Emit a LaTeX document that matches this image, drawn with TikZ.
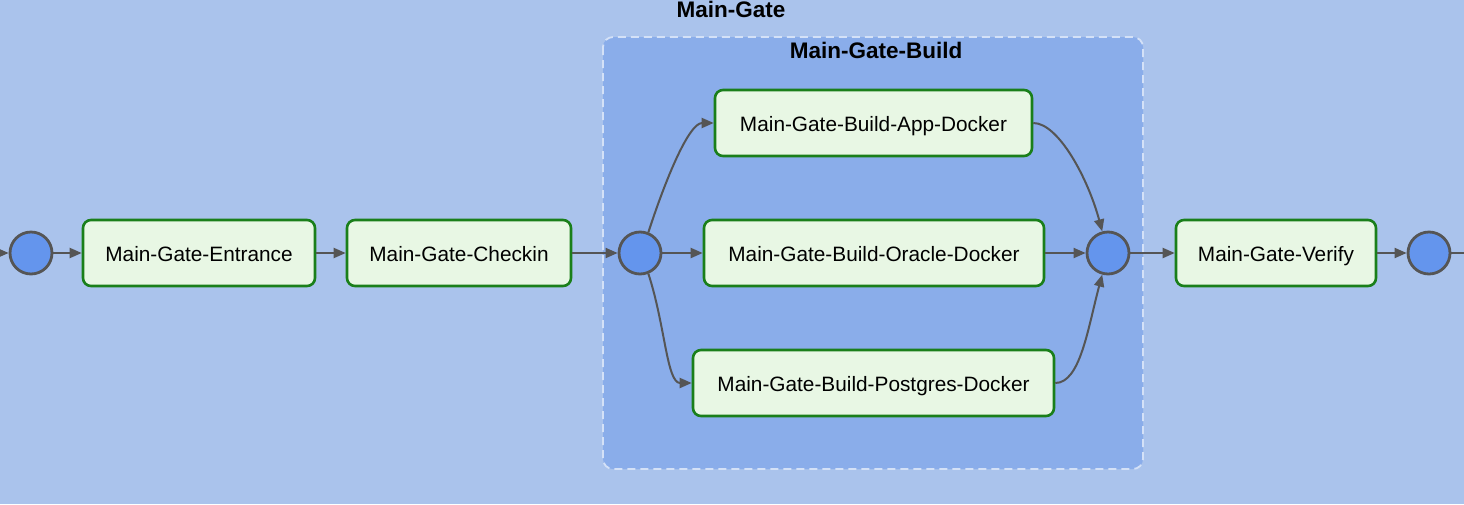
\documentclass[tikz,border=0pt]{standalone}
\usepackage{fontspec}
\setmainfont{Liberation Sans}
\usetikzlibrary{arrows.meta}
\definecolor{outerbg}{HTML}{AAC3EC}
\definecolor{innerbg}{HTML}{8AADEA}
\definecolor{innerln}{HTML}{D4E1F7}
\definecolor{circfill}{HTML}{6495ED}
\definecolor{circln}{HTML}{555555}
\definecolor{boxfill}{HTML}{E8F7E4}
\definecolor{boxln}{HTML}{1A7F1A}
\definecolor{edgeln}{HTML}{555555}
\tikzset{
  taskbox/.style={draw=boxln, fill=boxfill, line width=2.6pt, rounded corners=8pt,
    minimum height=66pt, inner sep=0pt, text height=21pt, text depth=3.6pt,
    font=\fontsize{20.8}{24}\selectfont},
  gate/.style={circle, draw=circln, fill=circfill, line width=2.8pt, minimum size=42pt, inner sep=0pt},
  arr/.style={draw=edgeln, line width=2pt, -{Triangle[length=12pt,width=10pt]}},
  plainedge/.style={draw=edgeln, line width=2pt},
  titletext/.style={font=\fontsize{22.5}{26}\selectfont\bfseries}
}
\begin{document}
\begin{tikzpicture}[x=1pt,y=-1pt]
\useasboundingbox (0,0) rectangle (1464,504);
\fill[outerbg] (0,0) rectangle (1464,504);
\node[titletext] (maintitle) at (731,9) {Main-Gate};
\draw[innerln, fill=innerbg, line width=1.8pt, dash pattern=on 8pt off 5pt, rounded corners=10pt]
  (603,37) rectangle (1143,469);
\node[titletext] (buildtitle) at (876,50) {Main-Gate-Build};

\coordinate (lin) at (0,253);
\coordinate (lout) at (1464,253);
\node[gate] (start) at (31,253) {};
\node[taskbox, minimum width=232pt] (entrance) at (199,253) {Main-Gate-Entrance};
\node[taskbox, minimum width=224pt] (checkin) at (459,253) {Main-Gate-Checkin};
\node[gate] (fork) at (640,253) {};
\node[taskbox, minimum width=317pt] (app) at (873.5,123) {Main-Gate-Build-App-Docker};
\node[taskbox, minimum width=340pt] (oracle) at (874,253) {Main-Gate-Build-Oracle-Docker};
\node[taskbox, minimum width=361pt] (postgres) at (873.5,383) {Main-Gate-Build-Postgres-Docker};
\node[gate] (join) at (1108,253) {};
\node[taskbox, minimum width=200pt] (verify) at (1276,253) {Main-Gate-Verify};
\node[gate] (finish) at (1429,253) {};

\draw[arr] (lin) -- (start);
\draw[arr] (start) -- (entrance);
\draw[arr] (entrance) -- (checkin);
\draw[arr] (checkin) -- (fork);
\draw[arr] (fork) -- (oracle);
\draw[arr] (oracle) -- (join);
\draw[arr] (join) -- (verify);
\draw[arr] (verify) -- (finish);
\draw[plainedge] (finish) -- (lout);
\draw[arr] (fork.68) .. controls +(-72:55) and +(180:25) .. (app.west);
\draw[arr] (fork.-68) .. controls +(72:55) and +(180:25) .. (postgres.west);
\draw[arr] (app.east) .. controls +(0:25) and +(-105:55) .. (join.105);
\draw[arr] (postgres.east) .. controls +(0:25) and +(105:55) .. (join.-105);
\end{tikzpicture}
\end{document}
